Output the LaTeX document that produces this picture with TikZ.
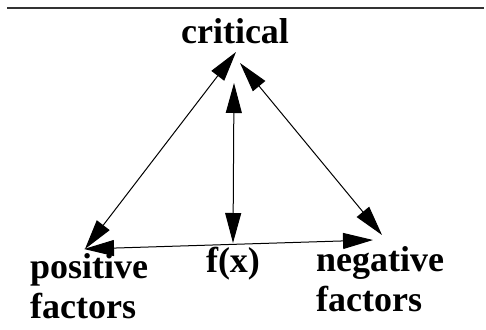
\documentclass[tikz,border=0pt]{standalone}
\usepackage{fontspec}
\setmainfont{Liberation Serif}
\usepackage{tikz}
\usetikzlibrary{arrows.meta}

\begin{document}
\begin{tikzpicture}[x=1pt, y=-1pt,
    label/.style={inner sep=0pt, font=\fontsize{36}{40}\selectfont\bfseries},
    link/.style={{Triangle[length=30pt,width=16pt]}-{Triangle[length=30pt,width=16pt]}, line width=1pt}]

    \useasboundingbox (0,0) rectangle (486,329);
    \draw[line width=1.3pt, black!80] (7,8) -- (484,8);

    \node[label, anchor=base] (crit) at (235,44) {critical};
    \node[label, anchor=base west, align=left] (pos) at (30,318) {positive\\factors};
    \node[label, anchor=base] (fx) at (233,272) {f(x)};
    \node[label, anchor=base west, align=left] (neg) at (316,311) {negative\\factors};

    \draw[link] ([shift={(1,8)}]crit.base) -- ([shift={(55,-69)}]pos.base west);
    \draw[link] ([shift={(5,19)}]crit.base) -- ([shift={(66,-76)}]neg.base west);
    \draw[link] ([shift={(-1,39)}]crit.base) -- ([shift={(0,-29)}]fx.base);
    \draw[link] ([shift={(54,-69)}]pos.base west) -- ([shift={(57,-71)}]neg.base west);
\end{tikzpicture}
\end{document}
